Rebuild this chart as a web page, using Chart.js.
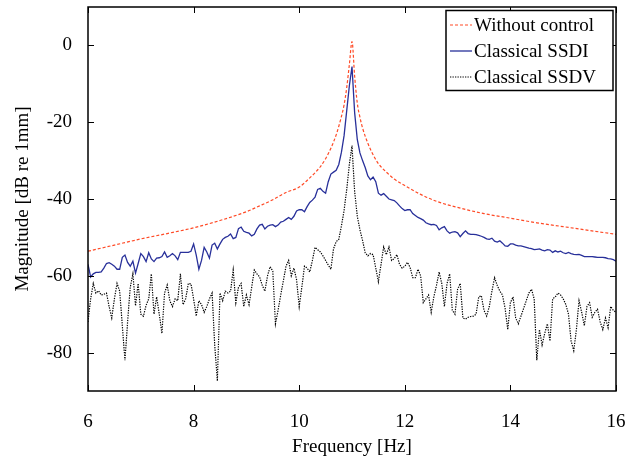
<!DOCTYPE html>
<html>
<head>
<meta charset="utf-8">
<script src="https://cdn.jsdelivr.net/npm/chart.js@4"></script>
<style>
  html, body { margin: 0; padding: 0; background: #fff; }
  #wrap { width: 626px; height: 462px; }
</style>
</head>
<body>
<div id="wrap"><canvas id="myChart"></canvas></div>
<script>
// Frequency grid of the measured curves [Hz]
const freq = [
  6.00, 6.05, 6.10, 6.15, 6.20, 6.25, 6.30, 6.35, 6.40, 6.45, 6.50, 6.55, 6.60, 6.65, 6.70, 6.75, 6.80, 6.85, 6.90, 6.95,
  7.00, 7.05, 7.10, 7.15, 7.20, 7.25, 7.30, 7.35, 7.40, 7.45, 7.50, 7.55, 7.60, 7.65, 7.70, 7.75, 7.80, 7.85, 7.90, 7.95,
  8.00, 8.05, 8.10, 8.15, 8.20, 8.25, 8.30, 8.35, 8.40, 8.45, 8.50, 8.55, 8.60, 8.65, 8.70, 8.75, 8.80, 8.85, 8.90, 8.95,
  9.00, 9.05, 9.10, 9.15, 9.20, 9.25, 9.30, 9.35, 9.40, 9.45, 9.50, 9.55, 9.60, 9.65, 9.70, 9.75, 9.80, 9.85, 9.90, 9.95,
  10.00, 10.05, 10.10, 10.15, 10.20, 10.25, 10.30, 10.35, 10.40, 10.45, 10.50, 10.55, 10.60, 10.65, 10.70, 10.75, 10.80, 10.85, 10.90, 10.95,
  11.00, 11.05, 11.10, 11.15, 11.20, 11.25, 11.30, 11.35, 11.40, 11.45, 11.50, 11.55, 11.60, 11.65, 11.70, 11.75, 11.80, 11.85, 11.90, 11.95,
  12.00, 12.05, 12.10, 12.15, 12.20, 12.25, 12.30, 12.35, 12.40, 12.45, 12.50, 12.55, 12.60, 12.65, 12.70, 12.75, 12.80, 12.85, 12.90, 12.95,
  13.00, 13.05, 13.10, 13.15, 13.20, 13.25, 13.30, 13.35, 13.40, 13.45, 13.50, 13.55, 13.60, 13.65, 13.70, 13.75, 13.80, 13.85, 13.90, 13.95,
  14.00, 14.05, 14.10, 14.15, 14.20, 14.25, 14.30, 14.35, 14.40, 14.45, 14.50, 14.55, 14.60, 14.65, 14.70, 14.75, 14.80, 14.85, 14.90, 14.95,
  15.00, 15.05, 15.10, 15.15, 15.20, 15.25, 15.30, 15.35, 15.40, 15.45, 15.50, 15.55, 15.60, 15.65, 15.70, 15.75, 15.80, 15.85, 15.90, 15.95,
  16.00
];

// Classical SSDI [dB re 1mm]
const ssdi = [
  -57.0, -60.3, -59.5, -59.1, -59.1, -59.0, -58.0, -56.8, -56.6, -57.0, -57.5, -58.3, -58.3, -55.2, -54.6, -56.5, -57.5, -56.2, -59.3, -56.8,
  -54.2, -55.0, -56.3, -54.0, -55.6, -56.3, -55.4, -55.3, -55.0, -53.8, -55.2, -54.8, -54.2, -54.8, -55.8, -53.9, -53.9, -53.9, -53.9, -53.6,
  -51.7, -54.6, -58.3, -56.0, -52.6, -53.8, -55.4, -52.0, -51.5, -53.0, -51.7, -50.5, -50.0, -49.7, -49.1, -50.3, -50.0, -47.7, -47.3, -48.4,
  -48.7, -48.9, -49.6, -49.2, -47.8, -46.8, -46.6, -47.8, -47.1, -46.8, -46.7, -47.2, -46.8, -46.0, -45.8, -45.3, -44.8, -45.3, -44.5, -43.1,
  -42.8, -42.8, -43.3, -42.0, -40.9, -40.3, -39.5, -37.5, -37.2, -38.0, -38.5, -35.5, -33.5, -33.0, -32.5, -31.0, -27.8, -23.5, -17.0, -10.5,
  -5.5, -17.5, -24.5, -28.0, -30.0, -31.8, -34.0, -35.0, -34.3, -35.5, -38.5, -39.0, -38.6, -39.3, -40.0, -40.2, -40.4, -41.0, -41.8, -42.5,
  -43.0, -42.8, -42.8, -43.8, -44.3, -44.8, -45.1, -45.5, -46.2, -46.5, -46.7, -46.6, -46.9, -48.0, -47.5, -47.2, -48.3, -48.9, -48.6, -48.5,
  -48.8, -49.8, -49.0, -48.3, -49.0, -49.2, -49.2, -49.3, -49.5, -49.7, -50.0, -50.4, -50.5, -50.2, -51.0, -51.2, -50.9, -51.5, -52.2, -52.3,
  -51.7, -51.7, -52.0, -52.2, -52.2, -52.4, -52.6, -52.8, -52.9, -53.2, -53.1, -53.0, -53.3, -53.5, -53.2, -53.3, -53.9, -53.5, -53.8, -53.6,
  -54.0, -54.2, -53.9, -54.2, -54.4, -54.5, -54.4, -54.7, -55.0, -55.0, -55.0, -55.0, -55.1, -55.2, -55.2, -55.2, -55.3, -55.5, -55.6, -55.8,
  -56.2
];

// Classical SSDV [dB re 1mm]
const ssdv = [
  -72.0, -66.0, -62.0, -64.5, -63.9, -65.0, -64.8, -64.5, -68.0, -71.0, -66.0, -62.0, -64.0, -73.0, -82.0, -72.0, -63.0, -59.5, -67.8, -62.0,
  -70.0, -70.5, -67.7, -66.0, -59.5, -70.0, -65.5, -70.0, -75.0, -64.5, -62.4, -66.5, -68.0, -66.0, -66.5, -59.5, -67.5, -66.0, -62.0, -62.1,
  -66.0, -70.5, -66.5, -67.5, -69.5, -68.0, -66.0, -64.5, -78.0, -87.4, -64.5, -66.5, -64.0, -64.5, -64.0, -58.5, -67.0, -63.0, -62.0, -68.0,
  -65.0, -67.5, -63.0, -58.5, -59.5, -60.3, -62.5, -64.0, -60.0, -57.6, -58.8, -72.5, -69.0, -65.0, -61.3, -57.5, -56.0, -60.0, -58.0, -61.0,
  -68.0, -63.0, -57.5, -58.0, -59.0, -56.0, -52.6, -53.2, -53.8, -54.8, -56.0, -57.2, -58.3, -53.0, -51.1, -50.5, -47.0, -43.0, -37.5, -31.0,
  -26.1, -38.0, -44.5, -48.0, -50.8, -54.0, -54.8, -54.2, -54.5, -58.0, -61.5, -57.0, -52.5, -54.5, -52.5, -56.0, -55.5, -54.5, -57.0, -58.0,
  -57.5, -56.5, -57.8, -60.5, -60.5, -58.3, -60.0, -67.0, -66.0, -65.0, -69.5, -65.5, -62.5, -59.0, -62.0, -68.0, -62.0, -59.5, -69.0, -70.0,
  -63.5, -62.0, -71.0, -71.3, -70.8, -70.6, -70.5, -70.0, -65.5, -65.2, -69.0, -70.5, -68.0, -64.0, -60.5, -62.5, -64.0, -65.0, -68.5, -74.0,
  -67.0, -65.5, -71.0, -72.5, -70.5, -68.5, -66.5, -64.5, -63.5, -66.0, -82.0, -74.0, -78.0, -75.0, -72.5, -77.0, -66.0, -65.5, -64.5, -65.0,
  -66.0, -67.5, -70.0, -77.0, -79.5, -74.0, -66.5, -69.5, -73.0, -68.0, -67.0, -70.8, -69.5, -68.7, -72.0, -74.0, -71.0, -73.5, -68.0, -69.0,
  -69.5
];

// Without control (smooth curve, read at fewer points)
const freqOpen = [6.0, 6.5, 7.0, 7.5, 8.0, 8.5, 9.0, 9.25, 9.5, 9.75, 10.0, 10.2, 10.4, 10.5, 10.6, 10.7, 10.8, 10.85, 10.9, 10.95,
  11.0, 11.05, 11.1, 11.15, 11.2, 11.3, 11.4, 11.5, 11.65, 11.8, 12.0, 12.3, 12.6, 13.0, 13.5, 14.0, 14.5, 15.0, 15.5, 16.0];
const magOpen = [-53.6, -52.0, -50.4, -49.0, -47.5, -45.6, -43.3, -41.8, -40.2, -38.3, -36.9, -34.5, -31.6, -29.5, -26.8, -23.3, -18.5, -15.5, -11.0, -5.0,
  1.0, -8.0, -15.0, -18.7, -21.5, -25.5, -28.5, -30.8, -33.0, -34.8, -36.5, -38.8, -40.6, -42.2, -43.8, -45.0, -46.2, -47.2, -48.2, -49.2];

const xTicks = [6, 8, 10, 12, 14, 16];
const yTicks = [-80, -60, -40, -20, 0];

const FONT = "'Liberation Serif', 'Times New Roman', serif";
Chart.defaults.font.family = FONT;
Chart.defaults.font.size = 19;
Chart.defaults.color = '#000';

function pts(xs, ys) {
    return xs.map((f, i) => ({ x: f, y: ys[i] }));
}

// cadre, graduations intérieures et légende dans le coin
const framePlugin = {
    id: 'frame',
    afterDraw(chart) {
        const { ctx, chartArea: a, scales: { x, y } } = chart;
        ctx.save();
        ctx.strokeStyle = '#000';
        ctx.lineWidth = 1;
        ctx.beginPath();
        x.ticks.forEach(t => {
            const px = Math.round(x.getPixelForValue(t.value)) + 0.5;
            ctx.moveTo(px, a.bottom); ctx.lineTo(px, a.bottom - 6);
            ctx.moveTo(px, a.top); ctx.lineTo(px, a.top + 6);
        });
        y.ticks.forEach(t => {
            const py = Math.round(y.getPixelForValue(t.value)) + 0.5;
            ctx.moveTo(a.left, py); ctx.lineTo(a.left + 6, py);
            ctx.moveTo(a.right, py); ctx.lineTo(a.right - 6, py);
        });
        ctx.stroke();
        ctx.lineWidth = 1.5;
        ctx.strokeRect(a.left, a.top, a.right - a.left, a.bottom - a.top);

        // legend
        const bw = 167, bh = 80;
        const bx = a.right - 3 - bw, by = a.top + 3.5;
        ctx.fillStyle = '#fff';
        ctx.fillRect(bx, by, bw, bh);
        ctx.lineWidth = 1.5;
        ctx.strokeRect(bx, by, bw, bh);
        ctx.font = '19px ' + FONT;
        ctx.textBaseline = 'middle';
        ctx.textAlign = 'left';
        chart.data.datasets.forEach((ds, i) => {
            const ry = by + 14.5 + i * 26;
            ctx.beginPath();
            ctx.strokeStyle = ds.borderColor;
            ctx.lineWidth = ds.borderWidth;
            ctx.setLineDash(ds.borderDash || []);
            ctx.moveTo(bx + 4, ry); ctx.lineTo(bx + 26, ry);
            ctx.stroke();
            ctx.setLineDash([]);
            ctx.fillStyle = '#000';
            ctx.fillText(ds.label, bx + 28, ry + 1);
        });
        ctx.restore();
    }
};

new Chart(document.getElementById('myChart'), {
    type: 'line',
    data: {
        datasets: [
            {
                label: 'Without control',
                data: pts(freqOpen, magOpen),
                borderColor: '#ff4a26',
                borderWidth: 1.2,
                borderDash: [3, 2],
                cubicInterpolationMode: 'monotone',
                pointRadius: 0,
            },
            {
                label: 'Classical SSDI',
                data: pts(freq, ssdi),
                borderColor: '#28309a',
                borderWidth: 1.3,
                tension: 0,
                pointRadius: 0,
            },
            {
                label: 'Classical SSDV',
                data: pts(freq, ssdv),
                borderColor: '#000000',
                borderWidth: 1.2,
                borderDash: [1.3, 1.2],
                tension: 0,
                pointRadius: 0,
            },
        ]
    },
    options: {
        responsive: true,
        maintainAspectRatio: false,
        animation: false,
        layout: { padding: { top: 7, right: 10, left: 0, bottom: 0 } },
        plugins: {
            legend: { display: false },
            tooltip: { enabled: false },
        },
        scales: {
            x: {
                type: 'linear',
                min: 6,
                max: 16,
                afterBuildTicks: s => { s.ticks = xTicks.map(v => ({ value: v })); },
                afterFit: s => { s.height = 71; s.paddingLeft = 0; s.paddingRight = 0; },
                grid: { display: false, drawTicks: false },
                border: { display: false },
                ticks: { padding: 20, font: { size: 19 } },
                title: { display: true, text: 'Frequency [Hz]', font: { size: 19 }, padding: { top: 0, bottom: 4 } },
            },
            y: {
                type: 'linear',
                min: -90,
                max: 10,
                afterBuildTicks: s => { s.ticks = yTicks.map(v => ({ value: v })); },
                afterFit: s => { s.width = 88; s.paddingTop = 0; s.paddingBottom = 0; },
                grid: { display: false, drawTicks: false },
                border: { display: false },
                ticks: { padding: 16, font: { size: 19 } },
                title: { display: true, text: 'Magnitude [dB re 1mm]', font: { size: 19 }, padding: { top: 12, bottom: 0 } },
            }
        }
    },
    plugins: [framePlugin]
});
</script>
</body>
</html>
